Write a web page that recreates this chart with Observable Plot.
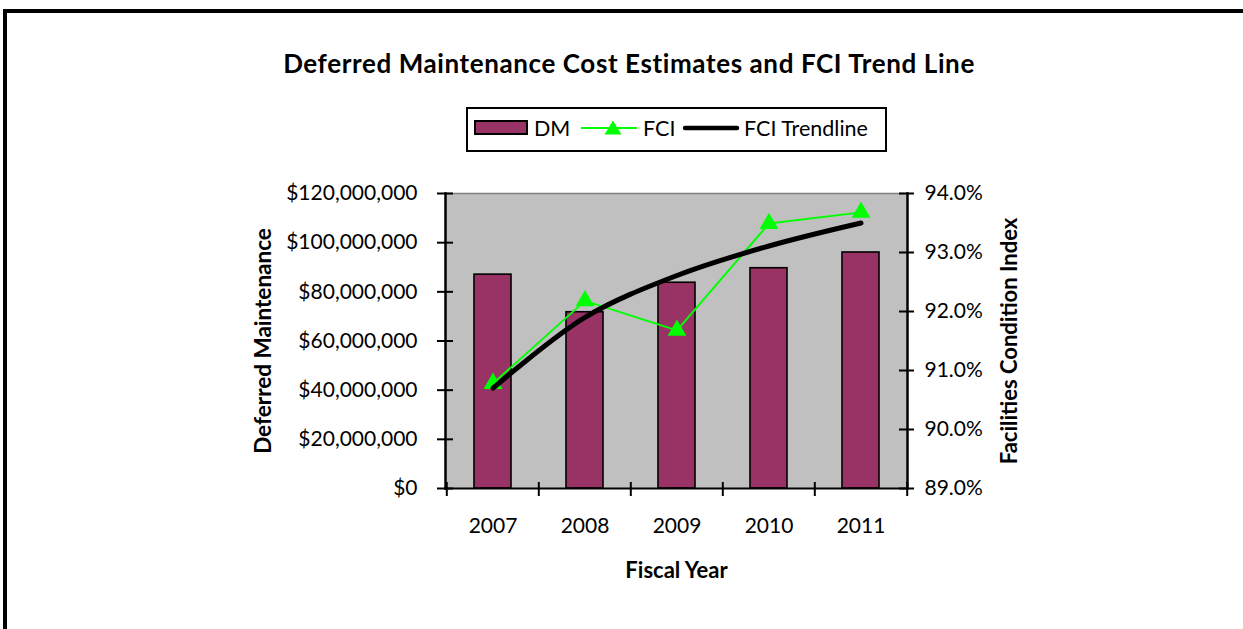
<!DOCTYPE html>
<html><head><meta charset="utf-8">
<script src="https://cdn.jsdelivr.net/npm/d3@7"></script>
<script src="https://cdn.jsdelivr.net/npm/@observablehq/plot@0.6"></script>
<style>
body{margin:0;background:#fff;font-family:Lato,"Open Sans",sans-serif;}
#wrap{position:relative;width:1243px;height:629px;overflow:hidden;background:#fff;}
#chart{position:absolute;left:0;top:0;}
#title{position:absolute;left:0;width:1258px;top:47px;line-height:32px;text-align:center;font-weight:bold;font-size:26px;letter-spacing:0.6px;color:#000;}
#legend{position:absolute;left:466px;top:107px;width:421px;height:45px;box-sizing:border-box;border:2px solid #000;background:#fff;}
.lg{position:absolute;}
.lt{position:absolute;top:115px;line-height:26px;font-size:21.5px;color:#000;white-space:nowrap;}
#border{position:absolute;left:3px;top:9px;width:1400px;height:800px;border:4px solid #000;pointer-events:none;}
</style></head><body>
<div id="wrap">
  <div id="chart"></div>
  <div id="title"></div>
  <div id="legend"></div>
  <div class="lg" id="sw" style="left:474px;top:120px;width:54px;height:15px;box-sizing:border-box;border:2px solid #000;background:#993366;"></div>
  <div class="lt" id="l0" style="left:534px;"></div>
  <svg class="lg" style="left:581px;top:117px;" width="56" height="22"><line x1="0" x2="56" y1="11" y2="11" stroke="#00ff00" stroke-width="2"/><path d="M32,3.5 L40.5,17.5 L23.5,17.5 Z" fill="#00ff00"/></svg>
  <div class="lt" id="l1" style="left:643px;"></div>
  <svg class="lg" style="left:682px;top:117px;" width="58" height="22"><line x1="3" x2="55" y1="11" y2="11" stroke="#000" stroke-width="4.5" stroke-linecap="round"/></svg>
  <div class="lt" id="l2" style="left:744px;"></div>
  <div id="border"></div>
</div>
<script>
const chartTitle = "Deferred Maintenance Cost Estimates and FCI Trend Line";
const legendLabels = ["DM", "FCI", "FCI Trendline"];
const years = ["2007", "2008", "2009", "2010", "2011"];
const dmValues = [87.0e6, 71.7e6, 83.7e6, 89.6e6, 96.0e6];
const fciValues = [90.78, 92.18, 91.68, 93.49, 93.68];
const fciTrendValues = [90.70, 91.90, 92.61, 93.11, 93.50];
const dmTicks = [0, 20e6, 40e6, 60e6, 80e6, 100e6, 120e6];
const fciTicks = [89, 90, 91, 92, 93, 94];
const xTitle = "Fiscal Year";
const yLeftTitle = "Deferred Maintenance";
const yRightTitle = "Facilities Condition Index";

document.getElementById("title").textContent = chartTitle;
legendLabels.forEach((t, i) => document.getElementById("l" + i).textContent = t);

const dmMax = dmTicks[dmTicks.length - 1];
const fMin = fciTicks[0], fMax = fciTicks[fciTicks.length - 1];
const toDM = p => (p - fMin) / (fMax - fMin) * dmMax;

const rows = years.map((y, i) => ({year: y, dm: dmValues[i], fci: toDM(fciValues[i]), trend: toDM(fciTrendValues[i])}));

const W = 1243, H = 629, mL = 445, mR = W - 907, mT = 193, mB = H - 488;
const step = (W - mL - mR) / years.length;
const fmtDM = d3.format("$,.0f");
const fmtPct = d => ((d / dmMax) * (fMax - fMin) + fMin).toFixed(1) + "%";

const chart = Plot.plot({
  width: W, height: H,
  marginLeft: mL, marginRight: mR, marginTop: mT, marginBottom: mB,
  style: {fontFamily: "Lato, 'Open Sans', sans-serif", fontSize: "21px", color: "#000", background: "transparent", overflow: "visible"},
  x: {domain: years, paddingInner: 0.6, paddingOuter: 0.3, axis: null, label: null},
  y: {domain: [0, dmMax], axis: null, label: null},
  marks: [
    Plot.frame({fill: "#c0c0c0", stroke: null}),
    Plot.frame({anchor: "top", stroke: "#808080", strokeWidth: 1.5}),
    Plot.barY(rows, {x: "year", y: "dm", fill: "#993366", stroke: "#000", strokeWidth: 1.6}),
    Plot.line(rows, {x: "year", y: "fci", stroke: "#00ff00", strokeWidth: 2}),
    Plot.dot(rows, {x: "year", y: "fci", symbol: "triangle", r: 7, fill: "#00ff00", stroke: null}),
    Plot.line(rows, {x: "year", y: "trend", curve: "catmull-rom", stroke: "#000", strokeWidth: 5, strokeLinecap: "round"}),
    Plot.frame({anchor: "left", stroke: "#000", strokeWidth: 2.5}),
    Plot.frame({anchor: "right", stroke: "#000", strokeWidth: 2.5}),
    Plot.frame({anchor: "bottom", stroke: "#000", strokeWidth: 2}),
    // left axis
    Plot.axisY(dmTicks, {anchor: "left", tickSize: 16, dx: 8, text: null, strokeWidth: 2, label: null}),
    Plot.axisY(dmTicks, {anchor: "left", tickSize: 0, tickPadding: 28, tickFormat: fmtDM, fontSize: 21, label: null}),
    // right axis
    Plot.axisY(fciTicks.map(toDM), {anchor: "right", tickSize: 15, dx: -9, text: null, strokeWidth: 2, label: null}),
    Plot.axisY(fciTicks.map(toDM), {anchor: "right", tickSize: 0, tickPadding: 17, tickFormat: fmtPct, fontSize: 21, label: null}),
    // x axis ticks at category boundaries
    Plot.axisX(years, {anchor: "bottom", tickSize: 14, dy: -6, dx: -step / 2, text: null, strokeWidth: 2, label: null}),
    Plot.axisX(years.slice(-1), {anchor: "bottom", tickSize: 14, dy: -6, dx: step / 2, text: null, strokeWidth: 2, label: null}),
    Plot.axisX(years, {anchor: "bottom", tickSize: 0, tickPadding: 30, fontSize: 21, label: null}),
    // axis titles
    Plot.text([xTitle], {frameAnchor: "bottom", dy: 82, fontWeight: "bold", fontSize: 22, lineAnchor: "middle", textAnchor: "middle"}),
    Plot.text([yLeftTitle], {frameAnchor: "left", dx: -182, rotate: -90, fontWeight: "bold", fontSize: 22.5, textAnchor: "middle", lineAnchor: "middle"}),
    Plot.text([yRightTitle], {frameAnchor: "right", dx: 102, rotate: -90, fontWeight: "bold", fontSize: 22, textAnchor: "middle", lineAnchor: "middle"})
  ]
});
document.getElementById("chart").appendChild(chart);
</script>
</body></html>
